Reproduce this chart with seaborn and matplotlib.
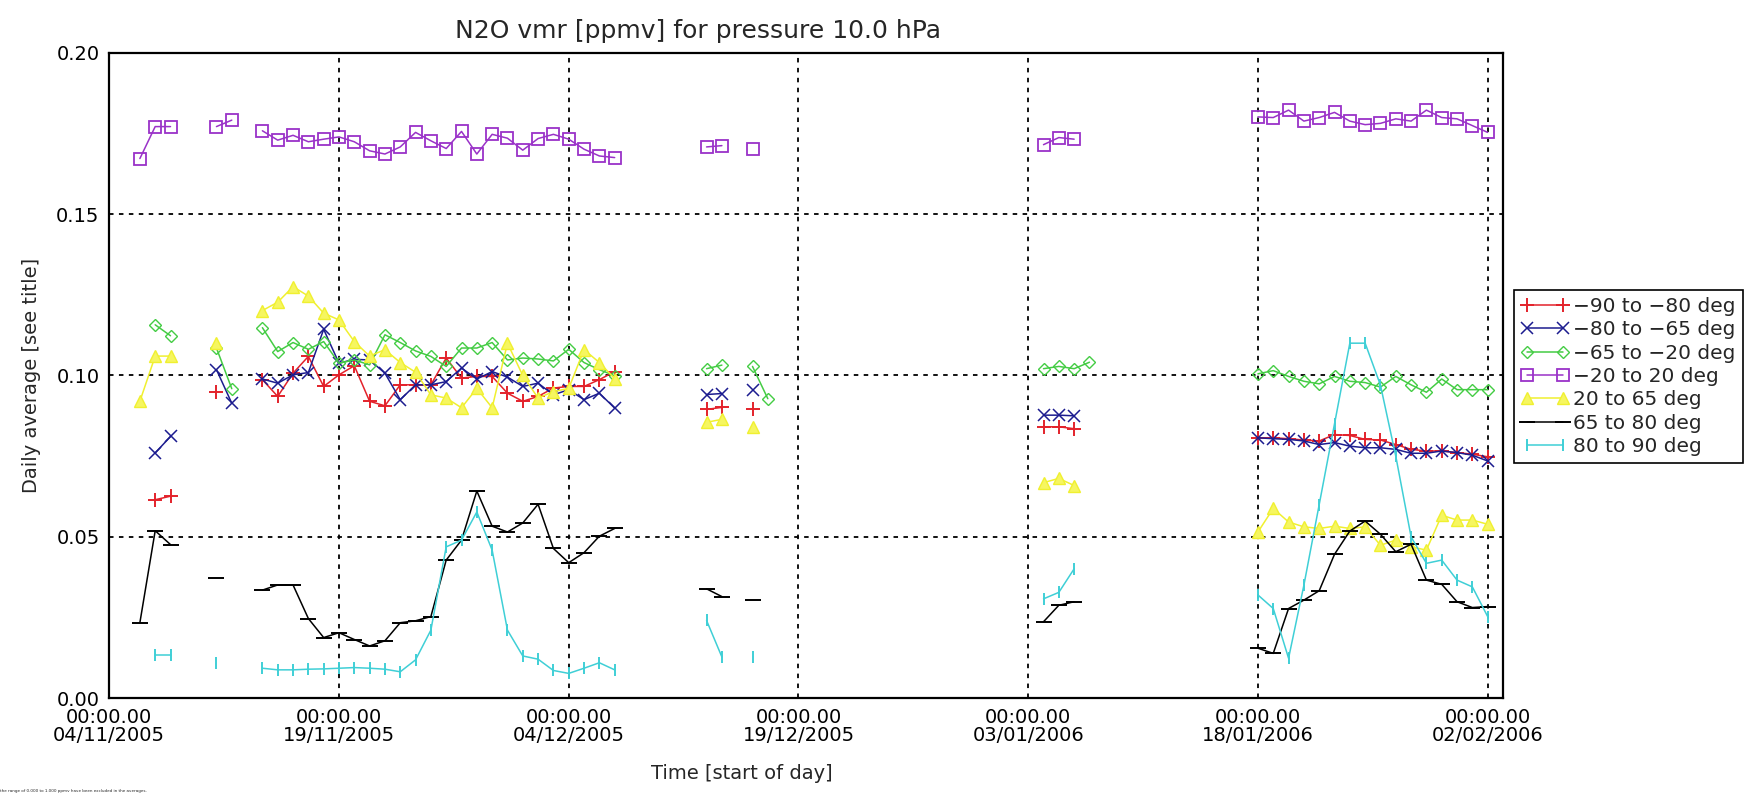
import numpy as np
import pandas as pd
import matplotlib
matplotlib.use('Agg')
import matplotlib.pyplot as plt
import seaborn as sns
from matplotlib.lines import Line2D

# latitude bands (legend text)
bands = ['\u221290 to \u221280 deg', '\u221280 to \u221265 deg', '\u221265 to \u221220 deg',
         '\u221220 to 20 deg', '20 to 65 deg', '65 to 80 deg', '80 to 90 deg']

# daily averages, each piece = (first day, values for consecutive days)
red_segments = [
    ('2005-11-07', [0.0615, 0.0626]),
    ('2005-11-11', [0.0950]),
    ('2005-11-14', [0.0987, 0.0935, 0.1007, 0.1059, 0.0966, 0.1002, 0.1030, 0.0920, 0.0906, 0.0971,
                    0.0971, 0.0971, 0.1054, 0.0992, 0.0997, 0.0997, 0.0945, 0.0920, 0.0935, 0.0961,
                    0.0966, 0.0966, 0.0987, 0.1012]),
    ('2005-12-13', [0.0895, 0.0901]),
    ('2005-12-16', [0.0895]),
    ('2006-01-04', [0.0841, 0.0841, 0.0835]),
    ('2006-01-18', [0.0807, 0.0807, 0.0804, 0.0800, 0.0797, 0.0817, 0.0814, 0.0802, 0.0800, 0.0786,
                    0.0771, 0.0766, 0.0766, 0.0761, 0.0756, 0.0748]),
]
blue_segments = [
    ('2005-11-07', [0.0760, 0.0811]),
    ('2005-11-11', [0.1018, 0.0914]),
    ('2005-11-14', [0.0989, 0.0976, 0.1002, 0.1009, 0.1143, 0.1038, 0.1050, 0.1048, 0.1007, 0.0925,
                    0.0971, 0.0971, 0.0981, 0.1023, 0.0989, 0.1012, 0.0995, 0.0966, 0.0976, 0.0940,
                    0.0956, 0.0925, 0.0945, 0.0899]),
    ('2005-12-13', [0.0941, 0.0944]),
    ('2005-12-16', [0.0955]),
    ('2006-01-04', [0.0877, 0.0877, 0.0875]),
    ('2006-01-18', [0.0807, 0.0804, 0.0802, 0.0797, 0.0786, 0.0792, 0.0781, 0.0776, 0.0776, 0.0771,
                    0.0759, 0.0759, 0.0766, 0.0761, 0.0753, 0.0735]),
]
green_segments = [
    ('2005-11-07', [0.1157, 0.1123]),
    ('2005-11-11', [0.1085, 0.0959]),
    ('2005-11-14', [0.1148, 0.1074, 0.1102, 0.1081, 0.1105, 0.1038, 0.1048, 0.1033, 0.1126, 0.1102,
                    0.1076, 0.1059, 0.1028, 0.1085, 0.1085, 0.1102, 0.1048, 0.1054, 0.1051, 0.1045,
                    0.1081, 0.1040, 0.1018, 0.0999]),
    ('2005-12-13', [0.1021, 0.1032]),
    ('2005-12-16', [0.1028, 0.0928]),
    ('2006-01-04', [0.1021, 0.1028, 0.1021, 0.1041]),
    ('2006-01-18', [0.1005, 0.1015, 0.0997, 0.0982, 0.0974, 0.0997, 0.0982, 0.0978, 0.0964, 0.0997,
                    0.0971, 0.0948, 0.0989, 0.0956, 0.0956, 0.0956]),
]
purple_segments = [
    ('2005-11-06', [0.1672, 0.1771, 0.1771]),
    ('2005-11-11', [0.1771, 0.1791]),
    ('2005-11-14', [0.1758, 0.1729, 0.1744, 0.1724, 0.1732, 0.1739, 0.1724, 0.1696, 0.1686, 0.1708,
                    0.1753, 0.1727, 0.1703, 0.1756, 0.1686, 0.1747, 0.1735, 0.1698, 0.1734, 0.1747,
                    0.1732, 0.1701, 0.1680, 0.1675]),
    ('2005-12-13', [0.1708, 0.1712]),
    ('2005-12-16', [0.1701]),
    ('2006-01-04', [0.1715, 0.1737, 0.1732]),
    ('2006-01-18', [0.1801, 0.1799, 0.1822, 0.1788, 0.1799, 0.1815, 0.1788, 0.1777, 0.1781, 0.1795,
                    0.1788, 0.1822, 0.1799, 0.1795, 0.1774, 0.1753]),
]
yellow_segments = [
    ('2005-11-06', [0.0920, 0.1060, 0.1060]),
    ('2005-11-11', [0.1100]),
    ('2005-11-14', [0.1201, 0.1227, 0.1275, 0.1246, 0.1193, 0.1172, 0.1105, 0.1060, 0.1080, 0.1040,
                    0.1010, 0.0940, 0.0930, 0.0900, 0.0960, 0.0900, 0.1100, 0.1000, 0.0930, 0.0950,
                    0.0960, 0.1080, 0.1040, 0.0990]),
    ('2005-12-13', [0.0855, 0.0864]),
    ('2005-12-16', [0.0841]),
    ('2006-01-04', [0.0668, 0.0681, 0.0659]),
    ('2006-01-18', [0.0515, 0.0588, 0.0546, 0.0531, 0.0526, 0.0533, 0.0526, 0.0531, 0.0474, 0.0490,
                    0.0469, 0.0459, 0.0567, 0.0552, 0.0552, 0.0539]),
]
black_segments = [
    ('2005-11-06', [0.0234, 0.0519, 0.0476]),
    ('2005-11-11', [0.0371]),
    ('2005-11-14', [0.0335, 0.0351, 0.0351, 0.0247, 0.0188, 0.0203, 0.0182, 0.0162, 0.0178, 0.0234,
                    0.0240, 0.0253, 0.0428, 0.0490, 0.0642, 0.0533, 0.0515, 0.0543, 0.0601, 0.0464,
                    0.0420, 0.0451, 0.0502, 0.0526]),
    ('2005-12-13', [0.0339, 0.0315]),
    ('2005-12-16', [0.0304]),
    ('2006-01-04', [0.0237, 0.0288, 0.0299]),
    ('2006-01-18', [0.0155, 0.0139, 0.0278, 0.0304, 0.0333, 0.0446, 0.0518, 0.0549, 0.0508, 0.0454,
                    0.0477, 0.0366, 0.0353, 0.0299, 0.0281, 0.0284]),
]
cyan_segments = [
    ('2005-11-07', [0.0134, 0.0134]),
    ('2005-11-11', [0.0108]),
    ('2005-11-14', [0.0093, 0.0088, 0.0088, 0.0090, 0.0091, 0.0093, 0.0095, 0.0093, 0.0090, 0.0082,
                    0.0119, 0.0211, 0.0469, 0.0490, 0.0577, 0.0459, 0.0211, 0.0131, 0.0121, 0.0086,
                    0.0077, 0.0093, 0.0110, 0.0088]),
    ('2005-12-13', [0.0241, 0.0128]),
    ('2005-12-16', [0.0128]),
    ('2006-01-04', [0.0308, 0.0328, 0.0401]),
    ('2006-01-18', [0.0320, 0.0278, 0.0124, 0.0350, 0.0600, 0.0850, 0.1100, 0.1100, 0.0970, 0.0750,
                    0.0500, 0.0418, 0.0428, 0.0366, 0.0345, 0.0253]),
]

tick_dates = ['2005-11-04', '2005-11-19', '2005-12-04', '2005-12-19', '2006-01-03', '2006-01-18', '2006-02-02']
tick_labels = ['00:00.00\n04/11/2005', '00:00.00\n19/11/2005', '00:00.00\n04/12/2005',
               '00:00.00\n19/12/2005', '00:00.00\n03/01/2006', '00:00.00\n18/01/2006',
               '00:00.00\n02/02/2006']
y_ticks = [0.00, 0.05, 0.10, 0.15, 0.20]

sns.set_theme(style='white')
plt.rcParams['font.family'] = ['DejaVu Sans']


def mstyle(color, marker, size, mew, face=None):
    # seaborn paints marker edges white by default, so give them the line colour
    return dict(color=color, marker=marker, markersize=size, markeredgewidth=mew,
                markeredgecolor=color, markerfacecolor=face if face else color)


styles = [
    (red_segments, mstyle('#e3222b', '+', 10, 1.4)),
    (blue_segments, mstyle('#1c1c8f', 'x', 8, 1.1)),
    (green_segments, mstyle('#44cc44', 'D', 6.5, 1.0, 'none')),
    (purple_segments, mstyle('#9a32c8', 's', 8.5, 1.3, 'none')),
    (yellow_segments, mstyle('#f0f030', '^', 8.5, 1.0, '#f6f660')),
    (black_segments, mstyle('black', '_', 11, 1.4)),
    (cyan_segments, mstyle('#3fcfd6', '|', 9, 1.4)),
]

fig = plt.figure(figsize=(17.62, 7.98), dpi=100)
ax = fig.add_axes([0.062, 0.125, 0.791, 0.809])

for segs, st in styles:
    for start, vals in segs:
        dates = pd.date_range(start, periods=len(vals), freq='D')
        sns.lineplot(x=dates, y=vals, ax=ax, linewidth=1.1, **st)

ax.set_xlim(pd.Timestamp('2005-11-04'), pd.Timestamp('2006-02-03'))
ax.set_ylim(0, 0.20)
ax.set_xticks(pd.to_datetime(tick_dates))
ax.set_xticklabels(tick_labels, fontsize=14, linespacing=0.95)
ax.set_yticks(y_ticks)
ax.set_yticklabels(['%.2f' % v for v in y_ticks], fontsize=14)
ax.tick_params(axis='both', length=0, pad=7, colors='black')
ax.grid(True, color='black', linestyle=(0, (2.5, 3)), linewidth=1.3)
for s in ax.spines.values():
    s.set_color('black')
    s.set_linewidth(1.6)
ax.set_xlabel('')
ax.set_ylabel('')

fig.text(0.396, 0.961, 'N2O vmr [ppmv] for pressure 10.0 hPa', ha='center', va='center', fontsize=18)
fig.text(0.421, 0.031, 'Time [start of day]', ha='center', va='center', fontsize=14)
fig.text(0.018, 0.529, 'Daily average [see title]', ha='center', va='center', rotation=90, fontsize=14)
fig.text(0.0, 0.006, 'the range of 0.000 to 1.000 ppmv have been excluded in the averages.',
         ha='left', va='bottom', fontsize=3)

handles = [Line2D([0], [0], linewidth=1.1, **st) for _, st in styles]
leg = fig.legend(handles, bands, loc='upper left', bbox_to_anchor=(0.859, 0.637), fontsize=14.5,
                 numpoints=2, handlelength=2.4, handletextpad=0.2, labelspacing=0.22,
                 borderpad=0.35, borderaxespad=0, fancybox=False, framealpha=1, edgecolor='black')
leg.get_frame().set_linewidth(1.2)

fig.savefig('out.png', dpi=100)
